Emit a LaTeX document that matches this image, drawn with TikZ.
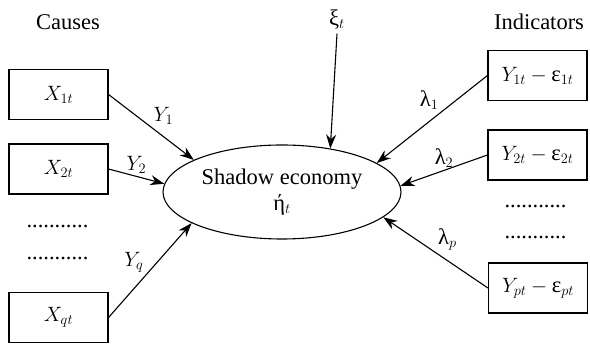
\documentclass[tikz,border=0pt]{standalone}
\usepackage{fontspec}
\setmainfont{Liberation Serif}
\usetikzlibrary{shapes.geometric,arrows.meta}
\begin{document}
\begin{tikzpicture}[x=1pt, y=-1pt, >={Stealth[length=14pt,width=10pt]}, line width=1.1pt,
  every node/.style={font=\fontsize{22.5}{26}\selectfont},
  varbox/.style={draw, minimum width=99pt, minimum height=50pt, inner sep=0pt},
  coef/.style={inner sep=2pt}]
  \useasboundingbox (0,0) rectangle (590,344);
  \node (causes) at (68,22) {Causes};
  \node (indic) at (539,22) {Indicators};
  \node[ellipse, draw, minimum width=238pt, minimum height=94pt, inner sep=0pt, align=center]
    (eco) at (282,192) {Shadow economy\\ή$_t$};
  \node (xi) at (337,20) {ξ$_t$};
  \node[varbox] (x1) at (58.5,94.5) {$X_{1t}$};
  \node[varbox] (x2) at (58.5,169) {$X_{2t}$};
  \node[varbox] (xq) at (58.5,317.5) {$X_{qt}$};
  \node[varbox] (y1) at (537.5,75.5) {$Y_{1t}-{}$ε$_{1t}$};
  \node[varbox] (y2) at (537.5,155) {$Y_{2t}-{}$ε$_{2t}$};
  \node[varbox] (yp) at (538,288) {$Y_{pt}-{}$ε$_{pt}$};
  \node (ldots1) at (57.5,226) {...........};
  \node (ldots2) at (57.5,258) {...........};
  \node (rdots1) at (535.5,206) {...........};
  \node (rdots2) at (535.5,237) {...........};
  % causes into the latent variable
  \draw[->] (x1.east) -- node[coef, above right] (g1) {$Y_1$} (eco.160);
  \draw[->] (x2.east) -- node[coef, above] (g2) {$Y_2$} (eco.176);
  \draw[->] (xq.east) -- node[coef, above left, pos=0.45] (gq) {$Y_q$} (eco.199);
  \draw[->] (xi.south) -- (eco.42);
  % indicators
  \draw[->] (y1.west) -- node[coef, above left, pos=0.42] (l1) {λ$_1$} (eco.17);
  \draw[->] (y2.west) -- node[coef, above] (l2) {λ$_2$} (eco.3);
  \draw[->] (yp.west) -- node[coef, above right] (lp) {λ$_p$} (eco.-14);
\end{tikzpicture}
\end{document}
